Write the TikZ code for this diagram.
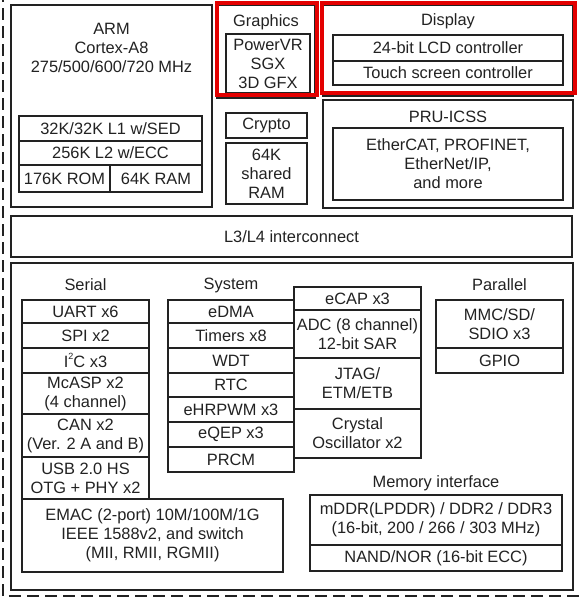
\documentclass[tikz,border=0pt]{standalone}
\usepackage{fontspec}
\setmainfont{Liberation Sans}
\newcommand\txt{\fontsize{16.4}{19}\selectfont}
\definecolor{ink}{HTML}{222222}
\definecolor{hl}{HTML}{E30000}
\tikzset{
  thickbox/.style={draw=ink, line width=2.8pt, inner sep=0pt, align=center, font=\txt, text=ink},
  cell/.style={draw=ink, line width=1.3pt, inner sep=0pt, align=center, font=\txt, text=ink},
  lbl/.style={inner sep=0pt, align=center, font=\txt, text=ink},
  redbox/.style={draw=hl, line width=4pt, inner sep=0pt},
  outer/.style={draw=ink, line width=1.5pt, dash pattern=on 12pt off 6pt}
}
% \mkcell[style]{name}{x1}{y1}{x2}{y2}{text}
\newcommand\mkcell[7][cell]{%
  \node[#1, minimum width={(#5-#3)*1pt}, minimum height={(#6-#4)*1pt}] (#2)
    at ({(#3+#5)/2},{(#4+#6)/2}) {#7};}
\newcommand\smallsup[1]{\raisebox{0.5em}{\fontsize{9}{9}\selectfont #1}}
\begin{document}
\begin{tikzpicture}[x=1pt,y=-1pt]
\useasboundingbox (0,0) rectangle (581,600);
\clip (0,0) rectangle (581,600);
\fill[white] (0,0) rectangle (581,600);
% outer dashed border
\coordinate (dtop) at (3,-10);
\coordinate (dcorner) at (3,596);
\coordinate (dright) at (590,596);
\draw[outer] (dtop) -- (dcorner) -- (dright);

% ARM
\mkcell[thickbox]{arm}{11}{5}{212}{207}{}
\node[lbl] (armt) at (111.5,48) {ARM\\Cortex-A8\\275/500/600/720 MHz};
\mkcell{l1}{19}{116}{202}{141}{32K/32K L1 w/SED}
\mkcell{l2}{19}{141}{202}{165}{256K L2 w/ECC}
\mkcell{rom}{19}{165}{110}{192}{176K ROM}
\mkcell{ram}{110}{165}{202}{192}{64K RAM}

% Graphics
\mkcell[thickbox]{gfx}{217}{5}{315}{98}{}
\node[lbl] (gfxt) at (266,22) {Graphics};
\mkcell{sgx}{226}{34}{310}{93}{PowerVR\\SGX\\3D GFX}
\mkcell[redbox]{gfxred}{217}{3}{317}{95}{}

% Display
\mkcell[thickbox]{disp}{323}{5}{573}{96}{}
\node[lbl] (dispt) at (448,21) {Display};
\mkcell{lcd}{333}{35}{563}{61}{24-bit LCD controller}
\mkcell{touch}{333}{61}{563}{85}{Touch screen controller}
\mkcell[redbox]{dispred}{322}{3}{575}{93}{}

% Crypto and shared RAM
\mkcell{crypto}{226}{113}{307}{138}{Crypto}
\mkcell{sram}{226}{143}{307}{204}{64K\\shared\\RAM}

% PRU-ICSS
\mkcell[thickbox]{pru}{323}{100}{573}{208}{}
\node[lbl] (prut) at (448,117) {PRU-ICSS};
\mkcell{ether}{333}{128}{563}{200}{EtherCAT, PROFINET,\\EtherNet/IP,\\and more}

% L3/L4
\mkcell[thickbox]{l3}{11}{216}{572}{257}{L3/L4 interconnect}

% Main peripheral box
\mkcell[thickbox]{main}{11}{263}{573}{590}{}

% Serial
\node[lbl] (serialt) at (85.5,285) {Serial};
\mkcell{uart}{22}{300}{149}{323}{UART x6}
\mkcell{spi}{22}{323}{149}{348}{SPI x2}
\mkcell{i2c}{22}{348}{149}{373}{I\smallsup{2}C x3}
\mkcell{mcasp}{22}{373}{149}{414}{McASP x2\\(4 channel)}
\mkcell{can}{22}{414}{149}{457}{CAN x2\\(Ver. 2 A and B)}
\mkcell{usb}{22}{457}{149}{499}{USB 2.0 HS\\OTG + PHY x2}
\mkcell{emac}{22}{499}{283}{572}{EMAC (2-port) 10M/100M/1G\\IEEE 1588v2, and switch\\(MII, RMII, RGMII)}

% System
\node[lbl] (syst) at (231,285) {System};
\mkcell{edma}{168}{300}{294}{323}{eDMA}
\mkcell{timers}{168}{323}{294}{348}{Timers x8}
\mkcell{wdt}{168}{348}{294}{373}{WDT}
\mkcell{rtc}{168}{373}{294}{397}{RTC}
\mkcell{ehr}{168}{397}{294}{422}{eHRPWM x3}
\mkcell{eqep}{168}{422}{294}{447}{eQEP x3}
\mkcell{prcm}{168}{447}{294}{472}{PRCM}
\mkcell{ecap}{294}{287}{421}{310}{eCAP x3}
\mkcell{adc}{294}{310}{421}{358}{ADC (8 channel)\\12-bit SAR}
\mkcell{jtag}{294}{358}{421}{409}{JTAG/\\ETM/ETB}
\mkcell{xtal}{294}{409}{421}{458}{Crystal\\Oscillator x2}

% Parallel
\node[lbl] (part) at (499.5,285) {Parallel};
\mkcell{mmc}{436}{300}{563}{348}{MMC/SD/\\SDIO x3}
\mkcell{gpio}{436}{348}{563}{373}{GPIO}

% Memory interface
\node[lbl] (memt) at (436,483) {Memory interface};
\mkcell{ddr}{310}{495}{562}{545}{mDDR(LPDDR) / DDR2 / DDR3\\(16-bit, 200 / 266 / 303 MHz)}
\mkcell{nand}{310}{545}{562}{571}{NAND/NOR (16-bit ECC)}
\end{tikzpicture}
\end{document}
